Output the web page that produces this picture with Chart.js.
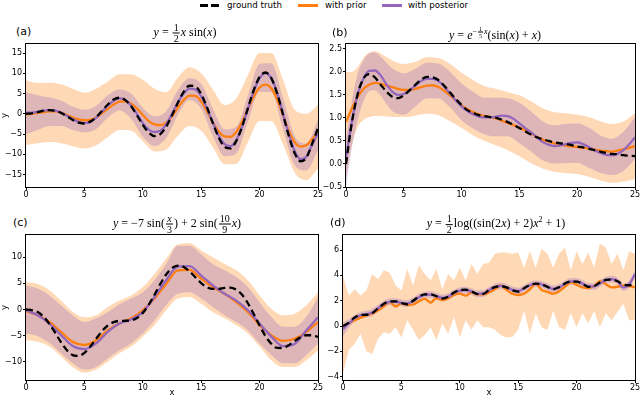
<!DOCTYPE html>
<html>
<head>
<meta charset="utf-8">
<script src="https://cdn.jsdelivr.net/npm/chart.js@4.4.1/dist/chart.umd.min.js"></script>
<style>
body { margin: 0; background: #fff; }
#fig { position: relative; width: 640px; height: 398px; overflow: hidden; font-family: 'DejaVu Sans', sans-serif; color: #000; }
canvas { position: absolute; }
.lbl { position: absolute; font-size: 11px; line-height: 13px; white-space: nowrap; }
.ttl { position: absolute; font-family: 'Liberation Serif', 'DejaVu Serif', serif; font-size: 12px; line-height: 13px; white-space: nowrap; transform: translate(-50%, -50%); }
.frac { display: inline-block; vertical-align: middle; text-align: center; font-size: 10px; line-height: 10px; margin: 0 1px; }
.frac span { display: block; padding: 0 1px; }
.frac span:first-child { border-bottom: 0.8px solid #000; }
.sm { font-size: 6px; line-height: 6px; }
sup { font-size: 8px; }
.leg { position: absolute; top: 0; font-size: 8.7px; line-height: 11px; white-space: nowrap; }
.swatch { position: absolute; top: 4px; width: 20px; height: 2.5px; }
</style>
</head>
<body>
<div id="fig">
  <div class="swatch" style="left:200px;background:repeating-linear-gradient(to right,#000 0 8px,transparent 8px 11px);"></div>
  <div class="leg" style="left:227px;">ground truth</div>
  <div class="swatch" style="left:298px;background:#ff7f0e;"></div>
  <div class="leg" style="left:325px;">with prior</div>
  <div class="swatch" style="left:382px;background:#9467bd;"></div>
  <div class="leg" style="left:408px;">with posterior</div>

  <canvas id="chartA" width="328" height="162" style="left:0;top:38px"></canvas>
  <canvas id="chartB" width="326" height="162" style="left:320px;top:38px"></canvas>
  <canvas id="chartC" width="328" height="169" style="left:0;top:229px"></canvas>
  <canvas id="chartD" width="326" height="169" style="left:320px;top:229px"></canvas>

  <div class="lbl" style="left:16px;top:25px">(a)</div>
  <div class="lbl" style="left:332px;top:26px">(b)</div>
  <div class="lbl" style="left:13px;top:216px">(c)</div>
  <div class="lbl" style="left:330px;top:216px">(d)</div>

  <div class="ttl" style="left:185px;top:33px"><i>y</i> = <span class="frac"><span>1</span><span>2</span></span><i>x</i> sin(<i>x</i>)</div>
  <div class="ttl" style="left:495px;top:33px"><i>y</i> = <i>e</i><sup>&minus;<span class="frac sm"><span>1</span><span>5</span></span><i>x</i></sup>(sin(<i>x</i>) + <i>x</i>)</div>
  <div class="ttl" style="left:177px;top:224px"><i>y</i> = &minus;7 sin(<span class="frac"><span><i>x</i></span><span>3</span></span>) + 2 sin(<span class="frac"><span>10</span><span>9</span></span><i>x</i>)</div>
  <div class="ttl" style="left:496px;top:224px"><i>y</i> = <span class="frac"><span>1</span><span>2</span></span>log((sin(2<i>x</i>) + 2)<i>x</i><sup>2</sup> + 1)</div>
</div>

<script>
// x positions
const xHalf = [0,0.5,1,1.5,2,2.5,3,3.5,4,4.5,5,5.5,6,6.5,7,7.5,8,8.5,9,9.5,10,10.5,11,11.5,12,12.5,13,13.5,14,14.5,15,15.5,16,16.5,17,17.5,18,18.5,19,19.5,20,20.5,21,21.5,22,22.5,23,23.5,24,24.5,25];
const xWhole = [0,1,2,3,4,5,6,7,8,9,10,11,12,13,14,15,16,17,18,19,20,21,22,23,24,25];
const xBandB = [0,0.5,1,1.5,2,2.5,3,4,5,6,7,8,9,10,11,12,13,14,15,16,17,18,19,20,21,22,23,24,25];
const xTicks = [0,5,10,15,20,25];

// (a) y = 1/2 x sin(x)
const aTruth = [0,0.12,0.42,0.75,0.91,0.75,0.21,-0.61,-1.51,-2.2,-2.4,-1.94,-0.84,0.7,2.3,3.52,3.96,3.39,1.85,-0.36,-2.72,-4.62,-5.5,-5.03,-3.22,-0.41,2.73,5.43,6.93,6.78,4.88,1.57,-2.31,-5.87,-8.17,-8.57,-6.76,-3.2,1.42,5.88,9.13,10.21,8.8,5.04,-0.1,-5.48,-9.73,-11.74,-10.86,-7.4,-3.5];
const aPrior = [-0.2,0,0.2,0.4,0.6,0.6,0.3,-0.3,-0.9,-1.4,-1.6,-1.5,-0.9,0.1,1.2,2.3,3.0,3.1,2.5,1.3,-0.3,-1.8,-2.6,-2.8,-2.2,-0.6,1.5,3.4,4.5,4.4,3.0,0.6,-2.2,-4.4,-5.6,-5.7,-4.5,-2.0,1.2,4.3,6.5,7.2,6.3,3.6,-0.3,-4.2,-7.0,-8.1,-7.8,-6.3,-4.5];
const aPost = [0.3,0.3,0.5,0.8,0.9,0.8,0.3,-0.5,-1.3,-2.0,-2.3,-2.0,-1.0,0.5,2.0,3.2,3.8,3.4,2.0,0,-2.3,-3.9,-4.5,-4.2,-2.6,0,2.8,5.0,6.2,6.0,4.3,1.3,-2.2,-5.4,-7.5,-8.0,-6.5,-3.2,1.3,5.6,8.8,10.0,8.8,5.2,0,-5.0,-9.2,-11.2,-10.6,-7.6,-4.8];
const aPriorHi = [8.2,7.6,7.7,7.3,6.2,5.2,6.2,8.0,9.8,9.8,8.4,6.2,5.3,8.9,11.5,10.0,6.0,2.2,3.8,9.6,15.0,15.0,8.5,1.0,0.0,2.2];
const aPriorLo = [-7.7,-7.3,-7.0,-7.3,-8.0,-8.6,-7.8,-5.8,-4.0,-4.2,-6.8,-9.3,-8.8,-5.4,-3.0,-4.2,-8.3,-12.5,-12.4,-7.0,-1.8,-1.8,-7.5,-14.5,-16.4,-13.5];
const aPostHi = [5.3,4.6,4.0,3.3,1.8,1.0,2.0,4.6,6.0,5.0,1.5,-0.6,0.6,5.8,8.8,7.4,1.3,-3.8,-3.2,4.5,12.3,12.5,4.0,-5.5,-7.3,-1.5];
const aPostLo = [-5.0,-4.0,-3.0,-3.0,-4.0,-4.6,-3.8,-1.0,0.8,-1.3,-5.7,-8.0,-6.0,-0.3,3.4,1.2,-5.5,-10.5,-9.8,-2.0,5.4,5.3,-3.8,-12.7,-14.0,-9.0];
const aYTicks = [-15,-10,-5,0,5,10,15];

// (b) y = e^(-x/5)(sin(x) + x)
const bTruth = [0,0.89,1.51,1.85,1.95,1.88,1.72,1.57,1.46,1.43,1.49,1.6,1.72,1.83,1.89,1.88,1.82,1.7,1.55,1.41,1.28,1.17,1.11,1.06,1.04,1.02,1.0,0.96,0.91,0.85,0.78,0.71,0.64,0.58,0.54,0.5,0.47,0.45,0.43,0.41,0.38,0.36,0.33,0.3,0.27,0.24,0.22,0.21,0.19,0.18,0.17];
const bPrior = [0.91,1.2,1.45,1.63,1.72,1.76,1.74,1.7,1.67,1.63,1.61,1.61,1.63,1.67,1.7,1.71,1.67,1.59,1.49,1.38,1.27,1.19,1.13,1.08,1.04,1.02,0.99,0.94,0.89,0.84,0.79,0.73,0.66,0.59,0.53,0.49,0.45,0.42,0.4,0.38,0.37,0.35,0.34,0.31,0.29,0.28,0.27,0.29,0.32,0.35,0.39];
const bPost = [0.15,0.9,1.5,1.85,2.02,2.03,1.92,1.73,1.57,1.5,1.52,1.6,1.7,1.8,1.85,1.85,1.8,1.68,1.53,1.38,1.25,1.15,1.08,1.03,1.01,1.01,1.03,1.05,1.04,0.98,0.88,0.78,0.69,0.58,0.48,0.42,0.39,0.4,0.43,0.46,0.47,0.43,0.37,0.3,0.24,0.2,0.19,0.22,0.3,0.43,0.58];
const bPriorHi = [2.0,2.0,2.1,2.3,2.42,2.45,2.4,2.25,2.17,2.22,2.32,2.3,2.17,1.98,1.82,1.69,1.63,1.56,1.49,1.36,1.21,1.13,1.1,1.07,1.02,0.93,0.87,0.92,1.1];
const bPriorLo = [-0.3,0.4,0.8,0.95,1.02,1.04,1.04,1.02,1.02,1.05,1.09,1.06,0.93,0.78,0.62,0.5,0.4,0.3,0.17,0.02,-0.1,-0.17,-0.2,-0.22,-0.28,-0.36,-0.41,-0.38,-0.33];
const bPostHi = [0.55,1.35,1.95,2.25,2.4,2.42,2.33,2.08,1.97,2.07,2.2,2.18,2.0,1.75,1.57,1.44,1.44,1.43,1.33,1.14,0.93,0.84,0.87,0.88,0.79,0.62,0.55,0.7,1.02];
const bPostLo = [-0.5,0.35,0.95,1.35,1.58,1.6,1.48,1.15,1.07,1.25,1.43,1.42,1.23,0.95,0.77,0.64,0.6,0.6,0.45,0.27,0.08,0.01,0.02,0.02,-0.08,-0.19,-0.24,-0.15,0.1];
const bYTicks = [-0.5,0,0.5,1,1.5,2,2.5];

// (c) y = -7 sin(x/3) + 2 sin(10x/9)
const cTruth = [0,-0.11,-0.5,-1.37,-2.74,-4.47,-6.27,-7.8,-8.73,-8.9,-8.3,-7.1,-5.62,-4.17,-3.07,-2.42,-2.18,-2.16,-2.08,-1.63,-0.65,0.89,2.83,4.89,6.69,7.93,8.41,8.14,7.29,6.16,5.07,4.27,3.95,3.95,4.14,4.17,3.78,2.8,1.19,-0.87,-3.08,-5.08,-6.55,-7.36,-7.37,-6.83,-6.05,-5.34,-4.93,-4.93,-5.26];
const cPrior = [-0.3,-1.1,-2.4,-4.3,-6.2,-6.8,-5.9,-4.0,-2.7,-1.7,-0.15,2.1,4.9,7.5,7.6,5.9,4.3,3.0,1.4,-0.5,-3.0,-4.9,-6.0,-5.6,-4.3,-2.4];
const cPost = [-0.15,-1.1,-2.7,-4.9,-7.0,-7.6,-6.5,-4.3,-2.7,-1.9,-0.5,2.4,5.6,8.2,8.3,6.5,4.6,3.0,1.7,-0.15,-2.7,-5.2,-7.0,-6.6,-4.0,-1.5];
const cPriorHi = [5.2,4.9,3.7,1.7,-0.5,-1.5,-1.1,0.5,1.7,2.7,4.3,6.8,9.7,12.5,12.7,11.3,10.0,8.7,7.5,5.6,2.7,0.15,-1.1,-0.8,0.8,3.3];
const cPriorLo = [-5.9,-6.2,-7.1,-9.0,-11.0,-12.1,-11.5,-10.0,-8.4,-7.1,-5.2,-3.0,-0.15,2.1,2.4,1.1,-0.5,-1.7,-3.0,-4.6,-7.1,-9.7,-11.0,-11.0,-9.7,-7.8];
const cPostHi = [4.6,4.0,2.7,0.8,-1.1,-2.4,-1.7,-0.5,1.0,2.1,3.3,5.6,8.7,12.2,12.2,10.6,8.7,7.5,6.2,4.3,1.4,-1.4,-3.3,-3.3,-1.4,2.4];
const cPostLo = [-4.6,-5.1,-6.4,-8.4,-10.3,-11.5,-11.0,-9.4,-7.8,-6.5,-4.6,-2.1,0.8,3.0,3.3,2.1,0.5,-1.1,-2.4,-4.0,-6.5,-8.7,-10.3,-10.3,-8.7,-6.5];
const cYTicks = [-10,-5,0,5,10];

// (d) y = 1/2 log((sin(2x) + 2)x^2 + 1)
const dTruth = [0,0.27,0.68,0.88,0.89,1.01,1.4,1.76,1.94,1.95,1.81,1.72,1.99,2.32,2.5,2.51,2.35,2.17,2.31,2.64,2.84,2.87,2.74,2.52,2.53,2.84,3.07,3.15,3.05,2.82,2.72,2.98,3.24,3.35,3.3,3.09,2.9,3.07,3.36,3.51,3.5,3.33,3.09,3.15,3.44,3.64,3.67,3.53,3.28,3.22,3.35];
const dPrior = [-0.1,0.2,0.45,0.65,0.84,1.0,1.23,1.55,1.9,1.55,1.8,1.65,1.7,1.95,2.15,1.85,2.2,2.05,2.2,2.45,2.55,2.4,2.65,2.5,2.5,2.65,2.9,3.2,2.85,2.55,2.45,2.55,2.9,3.35,2.85,2.7,2.55,2.75,3.1,3.45,3.25,3.05,3.0,3.15,3.55,3.3,3.05,3.1,3.2,3.15,3.05];
const dPost = [-0.25,0.2,0.6,0.85,0.93,1.07,1.4,1.72,1.9,1.92,1.83,1.78,1.98,2.27,2.45,2.48,2.36,2.22,2.32,2.6,2.8,2.83,2.72,2.55,2.55,2.82,3.07,3.17,3.05,2.85,2.76,2.97,3.22,3.35,3.28,3.1,2.93,3.05,3.32,3.52,3.52,3.35,3.13,3.13,3.37,3.62,3.7,3.55,3.05,3.3,4.1];
const dPriorHi = [3.9,2.4,2.9,2.4,2.8,4.1,3.7,4.4,4.2,3.2,2.8,4.5,3.2,4.8,4.1,3.6,4.5,2.9,4.1,3.6,4.6,3.6,4.9,4.1,4.9,5.0,5.7,5.8,5.8,5.7,5.8,4.6,5.9,4.6,6.1,5.7,4.6,5.7,6.2,4.4,5.9,4.9,5.8,4.6,6.5,6.2,4.9,5.7,4.4,5.9,5.7];
const dPriorLo = [-3.7,-1.9,-1.4,-0.6,-2.0,-2.2,-1.0,-0.5,-0.6,-0.1,-0.9,0.45,-0.3,-1.1,-0.7,-0.1,-1.1,0.2,-0.6,0.7,-0.9,0.45,-0.3,0.45,-0.1,-0.1,-0.3,-0.7,-0.9,-0.86,-0.3,1.2,-0.6,1.0,-0.1,-0.3,1.2,-0.1,-0.3,1.0,-0.1,1.0,0.2,1.2,-0.1,1.0,0.45,1.1,1.75,0.45,0.5];
const dPostHi = [0.3,0.55,0.87,1.12,1.2,1.34,1.67,1.99,2.17,2.19,2.1,2.05,2.25,2.54,2.72,2.75,2.63,2.49,2.59,2.87,3.07,3.1,2.99,2.82,2.82,3.09,3.34,3.44,3.32,3.12,3.03,3.24,3.49,3.62,3.55,3.37,3.2,3.32,3.59,3.79,3.79,3.62,3.4,3.4,3.64,3.89,3.97,3.82,3.32,3.57,4.4];
const dPostLo = [-0.8,-0.15,0.33,0.58,0.66,0.8,1.13,1.45,1.63,1.65,1.56,1.51,1.71,2.0,2.18,2.21,2.09,1.95,2.05,2.33,2.53,2.56,2.45,2.28,2.28,2.55,2.8,2.9,2.78,2.58,2.49,2.7,2.95,3.08,3.01,2.83,2.66,2.78,3.05,3.25,3.25,3.08,2.86,2.86,3.1,3.35,3.43,3.28,2.78,3.03,3.8];
const dYTicks = [-4,-2,0,2,4,6];

const ORANGE = '#ff7f0e';
const PURPLE = '#9467bd';
const NONE = 'rgba(0,0,0,0)';

Chart.defaults.font.family = "'DejaVu Sans', sans-serif";
Chart.defaults.color = '#000';

function pts(xs, ys) {
    return xs.map((x, i) => ({x: x, y: ys[i]}));
}

function minus(s) {
    return String(s).replace('-', '\u2212');
}

// box around the axes, like matplotlib spines
const frame = {
    id: 'frame',
    afterDraw(chart) {
        const a = chart.chartArea;
        const ctx = chart.ctx;
        ctx.save();
        ctx.strokeStyle = '#000';
        ctx.lineWidth = 1;
        ctx.strokeRect(Math.round(a.left) - 0.5, Math.round(a.top) - 0.5,
            Math.round(a.right - a.left) + 1, Math.round(a.bottom - a.top) + 1);
        ctx.restore();
    }
};

function makePanel(id, p) {
    const smooth = p.jagged ? {tension: 0} : {cubicInterpolationMode: 'monotone'};
    return new Chart(document.getElementById(id), {
        type: 'line',
        data: {
            datasets: [
                {label: 'ground truth', data: pts(p.xTruth, p.truth), borderColor: '#000', borderWidth: 2.3, borderDash: [7, 4], cubicInterpolationMode: 'monotone', order: 1},
                {label: 'with posterior', data: pts(p.xFit, p.post), borderColor: PURPLE, borderWidth: 2.3, cubicInterpolationMode: 'monotone', order: 2},
                {label: 'with prior', data: pts(p.xFit, p.prior), borderColor: ORANGE, borderWidth: 2.3, cubicInterpolationMode: 'monotone', order: 3},
                Object.assign({data: pts(p.xBand, p.postHi), borderColor: NONE, borderWidth: 0, backgroundColor: 'rgba(148,103,189,0.3)', fill: '+1', order: 4}, {cubicInterpolationMode: 'monotone'}),
                Object.assign({data: pts(p.xBand, p.postLo), borderColor: NONE, borderWidth: 0, fill: false, order: 5}, {cubicInterpolationMode: 'monotone'}),
                Object.assign({data: pts(p.xBand, p.priorHi), borderColor: NONE, borderWidth: 0, backgroundColor: 'rgba(255,127,14,0.3)', fill: '+1', order: 6}, smooth),
                Object.assign({data: pts(p.xBand, p.priorLo), borderColor: NONE, borderWidth: 0, fill: false, order: 7}, smooth)
            ]
        },
        options: {
            responsive: false,
            animation: false,
            devicePixelRatio: 1,
            elements: {point: {radius: 0, hoverRadius: 0}},
            layout: {padding: {top: p.padTop, right: p.padRight, left: 0, bottom: 0}},
            plugins: {legend: {display: false}, tooltip: {enabled: false}},
            events: [],
            scales: {
                x: {
                    type: 'linear',
                    min: 0,
                    max: 25,
                    afterBuildTicks: s => { s.ticks = xTicks.map(v => ({value: v})); },
                    afterFit: s => { s.height = p.xHeight; },
                    ticks: {font: {size: 8}, padding: 0, maxRotation: 0, autoSkip: false},
                    grid: {drawOnChartArea: false, drawTicks: true, tickLength: 3, color: '#000'},
                    border: {display: false},
                    title: {display: p.xTitle, text: 'x', font: {size: 8.5}, padding: 0}
                },
                y: {
                    type: 'linear',
                    min: p.yMin,
                    max: p.yMax,
                    afterBuildTicks: s => { s.ticks = p.yTicks.map(v => ({value: v})); },
                    afterFit: s => { s.width = p.yWidth; },
                    ticks: {font: {size: 8}, padding: 1, autoSkip: false, callback: v => minus(p.fmt ? p.fmt(v) : v)},
                    grid: {drawOnChartArea: false, drawTicks: true, tickLength: 3, color: '#000'},
                    border: {display: false},
                    title: {display: p.yTitle, text: 'y', font: {size: 8.5}, padding: 0}
                }
            }
        },
        plugins: [frame]
    });
}

makePanel('chartA', {
    xTruth: xHalf, xFit: xHalf, xBand: xWhole,
    truth: aTruth, prior: aPrior, post: aPost,
    priorHi: aPriorHi, priorLo: aPriorLo, postHi: aPostHi, postLo: aPostLo,
    yMin: -18.1, yMax: 17.3, yTicks: aYTicks,
    padTop: 5, padRight: 10, yWidth: 26, xHeight: 13, yTitle: true, xTitle: false
});

makePanel('chartB', {
    xTruth: xHalf, xFit: xHalf, xBand: xBandB,
    truth: bTruth, prior: bPrior, post: bPost,
    priorHi: bPriorHi, priorLo: bPriorLo, postHi: bPostHi, postLo: bPostLo,
    yMin: -0.5, yMax: 2.61, yTicks: bYTicks, fmt: v => v.toFixed(1),
    padTop: 5, padRight: 11, yWidth: 26, xHeight: 13, yTitle: false, xTitle: false
});

makePanel('chartC', {
    xTruth: xHalf, xFit: xWhole, xBand: xWhole,
    truth: cTruth, prior: cPrior, post: cPost,
    priorHi: cPriorHi, priorLo: cPriorLo, postHi: cPostHi, postLo: cPostLo,
    yMin: -13.5, yMax: 14.3, yTicks: cYTicks,
    padTop: 5, padRight: 10, yWidth: 26, xHeight: 18, yTitle: true, xTitle: true
});

makePanel('chartD', {
    xTruth: xHalf, xFit: xHalf, xBand: xHalf, jagged: true,
    truth: dTruth, prior: dPrior, post: dPost,
    priorHi: dPriorHi, priorLo: dPriorLo, postHi: dPostHi, postLo: dPostLo,
    yMin: -4.26, yMax: 7.2, yTicks: dYTicks,
    padTop: 5, padRight: 11, yWidth: 23, xHeight: 18, yTitle: false, xTitle: true
});
</script>
</body>
</html>
